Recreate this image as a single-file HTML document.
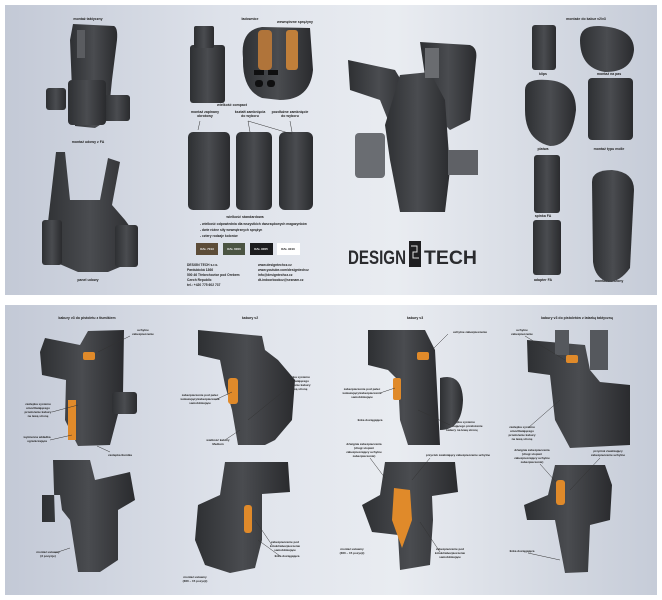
<!DOCTYPE html>
<html><head><meta charset="utf-8"><style>
html,body{margin:0;padding:0;background:#fff;}
svg{display:block;}
text{font-family:"Liberation Sans",sans-serif;font-weight:bold;fill:#222;}
</style></head><body>
<svg width="662" height="600" viewBox="0 0 662 600" xmlns="http://www.w3.org/2000/svg">
<defs>
<linearGradient id="bg" x1="0" y1="0" x2="1" y2="0">
<stop offset="0" stop-color="#c3c9d6"/><stop offset="0.35" stop-color="#dfe3eb"/><stop offset="0.6" stop-color="#e9ecf1"/><stop offset="1" stop-color="#c6ccd8"/>
</linearGradient>
<linearGradient id="hol" x1="0" y1="0" x2="1" y2="0">
<stop offset="0" stop-color="#2e3033"/><stop offset="0.5" stop-color="#4a4c50"/><stop offset="1" stop-color="#2a2b2e"/>
</linearGradient>
</defs>
<rect width="662" height="600" fill="#fff"/>
<rect x="5" y="5" width="652" height="290" fill="url(#bg)"/>
<rect x="5" y="305" width="652" height="290" fill="url(#bg)"/>

<!-- TOP PANEL -->
<g font-size="3.5" text-anchor="middle">
<text x="88" y="20">montaż taktyczny</text>
<text x="88" y="143">montaż udowy z FA</text>
<text x="88" y="281">panel udowy</text>
<text x="250" y="20">ładownice</text>
<text x="295" y="23">wewnętrzne sprężyny</text>
<text x="232" y="106">wielkość compact</text>
<text x="205" y="113">montaż zapinany</text><text x="205" y="117">obrotowy</text>
<text x="250" y="113">kształt zamknięcia</text><text x="250" y="117">do wyboru</text>
<text x="290" y="113">pozdłużne zamknięcie</text><text x="290" y="117">do wyboru</text>
<text x="245" y="218">wielkość standardowa</text>
<text x="586" y="20">montaże do kabur v2/v3</text>
<text x="543" y="75">klips</text><text x="609" y="75">montaż na pas</text>
<text x="543" y="150">platwa</text><text x="609" y="150">montaż typu molle</text>
<text x="543" y="217">spinka FA</text><text x="543" y="281">adapter FA</text><text x="609" y="282">montaż obniżony</text>
</g>
<g font-size="3.3">
<text x="200" y="225">- wielkość odpowiednia dla wszystkich dwurzędowych magazynków</text>
<text x="200" y="231">- dwie różne siły wewnętrznych sprężyn</text>
<text x="200" y="237">- cztery rodzaje kolorów</text>
<text x="187" y="266">DESIGN TECH s.r.o.</text>
<text x="187" y="271">Pardubická 1366</text>
<text x="187" y="276">500 46 Třebechovice pod Orebem</text>
<text x="187" y="281">Czech Republic</text>
<text x="187" y="286">tel.: +420 775 602 737</text>
<text x="258" y="266">www.designtechcz.cz</text>
<text x="258" y="271">www.youtube.com/designtechcz</text>
<text x="258" y="276">info@designtechcz.cz</text>
<text x="258" y="281">dt-indoorbookcz@seznam.cz</text>
</g>
<rect x="196" y="243" width="22" height="12" fill="#5c4c38"/>
<rect x="223" y="243" width="22" height="12" fill="#4b5442"/>
<rect x="250" y="243" width="23" height="12" fill="#1c1c1e"/>
<rect x="277" y="243" width="23" height="12" fill="#fff"/>
<g font-size="3" text-anchor="middle"><text x="207" y="250" style="fill:#eee">RAL 7013</text><text x="234" y="250" style="fill:#eee">RAL 6000</text><text x="261" y="250" style="fill:#eee">RAL 9005</text><text x="288" y="250">RAL 9010</text></g>

<g fill="url(#hol)">
<path d="M73 24 L114 26 Q118 28 117 40 L112 80 L108 120 L95 128 L75 126 L72 90 L70 40 Z"/>
<rect x="46" y="88" width="20" height="22" rx="3"/>
<rect x="104" y="95" width="26" height="26" rx="3"/>
<rect x="68" y="80" width="38" height="45" rx="4"/>
<path d="M56 152 L65 152 L70 200 L100 200 L108 158 L120 162 L112 205 L125 220 L138 238 L132 262 L108 272 L78 272 L55 262 L42 240 L48 222 Z"/>
<rect x="42" y="220" width="20" height="45" rx="3"/>
<rect x="115" y="225" width="23" height="42" rx="3"/>
</g>
<rect x="77" y="30" width="8" height="28" fill="#5a5c60"/>

<g fill="url(#hol)">
<rect x="190" y="45" width="35" height="58" rx="3"/>
<rect x="194" y="26" width="20" height="22" rx="2"/>
<path d="M243 58 Q240 30 262 27 L310 28 L313 70 Q310 100 280 100 L262 98 Q242 90 243 58 Z"/>
<rect x="188" y="132" width="42" height="78" rx="5"/>
<rect x="236" y="132" width="36" height="78" rx="5"/>
<rect x="279" y="132" width="34" height="78" rx="6"/>
</g>
<rect x="258" y="30" width="14" height="40" rx="4" fill="#b0743a"/>
<rect x="286" y="30" width="12" height="40" rx="3" fill="#c07f3a"/>
<g fill="#0f0f10"><rect x="254" y="70" width="10" height="5"/><rect x="268" y="70" width="10" height="5"/><rect x="255" y="80" width="8" height="7" rx="3"/><rect x="267" y="80" width="8" height="7" rx="3"/></g>

<g fill="url(#hol)">
<path d="M420 42 L470 45 Q478 48 476 60 L470 120 L450 130 L430 110 Z"/>
<path d="M348 60 L395 70 L410 95 L408 120 L392 130 L380 100 L350 90 Z"/>
<path d="M400 75 L430 72 L445 100 L450 170 L445 212 L400 212 L390 160 L385 125 Z"/>
<rect x="355" y="133" width="30" height="45" rx="4" fill="#6a6d72"/>
<rect x="448" y="150" width="30" height="25" fill="#5f6166"/>
</g>
<rect x="425" y="48" width="14" height="30" fill="#6a6c70"/>
<!-- logo -->
<text x="348" y="264" font-size="19" textLength="58" lengthAdjust="spacingAndGlyphs" style="fill:#2a2b2e;font-weight:bold">DESIGN</text>
<rect x="409" y="241" width="12" height="26" fill="#1f1f21"/>
<path d="M411 246 h6 v6 h-4 v6 h6" stroke="#ddd" stroke-width="1" fill="none"/>
<text x="424" y="264" font-size="19" textLength="53" lengthAdjust="spacingAndGlyphs" style="fill:#2a2b2e;font-weight:bold">TECH</text>

<g fill="url(#hol)">
<rect x="532" y="25" width="24" height="45" rx="3"/>
<path d="M580 40 Q580 25 600 26 Q634 28 634 50 Q632 72 605 72 Q580 68 580 40 Z"/>
<path d="M525 90 Q525 78 548 80 Q576 82 576 110 Q572 146 550 146 Q525 140 525 110 Z"/>
<rect x="588" y="78" width="45" height="62" rx="4"/>
<rect x="534" y="155" width="26" height="58" rx="3"/>
<path d="M592 182 Q592 170 612 170 Q634 172 634 190 L630 268 Q620 282 608 282 Q595 278 593 262 Z"/>
<rect x="533" y="220" width="28" height="55" rx="3"/>
</g>

<!-- BOTTOM PANEL -->
<g font-size="3.5" text-anchor="middle">
<text x="87" y="319">kabury v3 do pistoletu z tłumikiem</text>
<text x="250" y="319">kabury v2</text>
<text x="415" y="319">kabury v3</text>
<text x="577" y="319">kabury v3 do pistoletów z latarką taktyczną</text>
</g>
<g font-size="3" text-anchor="middle">
<text x="143" y="331">uchytne</text><text x="143" y="335">zabezpieczenie</text>
<text x="38" y="405">zaślepka systemu</text><text x="38" y="409">umożliwiającego</text><text x="38" y="413">przełożenie kabury</text><text x="38" y="417">na lewą stronę</text>
<text x="37" y="438">wymienna wkładka</text><text x="37" y="442">ograniczająca</text>
<text x="120" y="456">zaślepka tłumika</text>
<text x="48" y="553">montaż ustawny</text><text x="48" y="557">(3 pozycje)</text>
<text x="297" y="378">zaślepka systemu</text><text x="297" y="382">umożliwiającego</text><text x="297" y="386">przełożenie kabury</text><text x="297" y="390">na lewą stronę</text>
<text x="200" y="396">zabezpieczenie pod palec</text><text x="200" y="400">wskazujący/zabezpieczenie</text><text x="200" y="404">samoblokujące</text>
<text x="218" y="441">wielkość kabury</text><text x="218" y="445">Medium</text>
<text x="285" y="543">zabezpieczenie pod</text><text x="285" y="547">kciuk/zabezpieczenie</text><text x="285" y="551">samoblokujące</text>
<text x="287" y="557">linka dociągająca</text>
<text x="195" y="578">montaż ustawny</text><text x="195" y="582">(360 – 15 pozycji)</text>
<text x="470" y="333">uchytne zabezpieczenie</text>
<text x="362" y="390">zabezpieczenie pod palec</text><text x="362" y="394">wskazujący/zabezpieczenie</text><text x="362" y="398">samoblokujące</text>
<text x="370" y="421">linka dociągająca</text>
<text x="462" y="423">zaślepka systemu</text><text x="462" y="427">umożliwiającego przełożenie</text><text x="462" y="431">kabury na lewą stronę</text>
<text x="364" y="445">dźwignia zabezpieczenia</text><text x="364" y="449">(drugi stopień</text><text x="364" y="453">zabezpieczający uchytne</text><text x="364" y="457">zabezpieczenie)</text>
<text x="458" y="456">przycisk zwalniający zabezpieczenie uchytne</text>
<text x="352" y="550">montaż ustawny</text><text x="352" y="554">(360 – 15 pozycji)</text>
<text x="450" y="550">zabezpieczenie pod</text><text x="450" y="554">kciuk/zabezpieczenie</text><text x="450" y="558">samoblokujące</text>
<text x="522" y="331">uchytne</text><text x="522" y="335">zabezpieczenie</text>
<text x="522" y="428">zaślepka systemu</text><text x="522" y="432">umożliwiającego</text><text x="522" y="436">przełożenie kabury</text><text x="522" y="440">na lewą stronę</text>
<text x="532" y="451">dźwignia zabezpieczenia</text><text x="532" y="455">(drugi stopień</text><text x="532" y="459">zabezpieczający uchytne</text><text x="532" y="463">zabezpieczenie)</text>
<text x="608" y="452">przycisk zwalniający</text><text x="608" y="456">zabezpieczenie uchytne</text>
<text x="522" y="552">linka dociągająca</text>
</g>

<g fill="url(#hol)">
<path d="M88 331 L124 330 L123 395 L110 445 L78 446 L65 420 L66 380 L42 375 L40 352 L45 338 L80 345 Z"/>
<rect x="112" y="392" width="25" height="22" rx="3"/>
<path d="M53 460 L90 460 L95 480 L130 472 L135 500 L118 510 L118 560 L100 572 L78 572 L70 520 L62 510 L60 495 L42 495 L42 522 L55 522 Z"/>
<path d="M198 330 L262 336 L265 350 L278 360 L295 380 L292 420 L275 440 L265 445 L238 445 L232 410 L225 385 L220 360 L198 355 Z"/>
<path d="M225 462 L288 462 L290 492 L262 494 L262 540 L255 568 L230 573 L205 565 L195 540 L198 505 L220 495 Z"/>
<path d="M368 330 L425 330 L435 350 L440 445 L408 445 L400 420 L398 380 L388 370 L368 365 Z"/>
<path d="M440 378 Q462 372 463 400 Q462 430 440 430 Z"/>
<path d="M385 462 L455 462 L458 492 L432 496 L433 520 L430 565 L400 570 L398 535 L372 532 L362 505 L380 495 Z"/>
<path d="M527 340 L585 345 L590 370 L600 382 L630 385 L630 445 L570 448 L555 420 L550 375 L528 372 Z"/>
<rect x="590" y="330" width="18" height="40" fill="#55585d"/>
<rect x="555" y="330" width="14" height="25" fill="#55585d"/>
<path d="M555 465 L605 465 L612 485 L610 520 L590 525 L588 572 L565 573 L555 520 L527 520 L524 505 L548 495 Z"/>
</g>

<g fill="#e08a2a">
<rect x="83" y="352" width="12" height="8" rx="2"/>
<rect x="68" y="400" width="8" height="40"/>
<rect x="228" y="378" width="10" height="26" rx="3"/>
<rect x="244" y="505" width="8" height="28" rx="3"/>
<rect x="417" y="352" width="12" height="8" rx="2"/>
<rect x="393" y="378" width="8" height="22" rx="2"/>
<path d="M394 488 L410 490 L412 520 L402 548 L392 520 Z"/>
<rect x="566" y="355" width="12" height="8" rx="2"/>
<rect x="556" y="480" width="9" height="25" rx="3"/>
</g>

<g stroke="#333" stroke-width="0.5" fill="none">
<line x1="130" y1="336" x2="98" y2="352"/>
<line x1="52" y1="412" x2="78" y2="405"/>
<line x1="50" y1="440" x2="72" y2="435"/>
<line x1="110" y1="452" x2="97" y2="446"/>
<line x1="55" y1="553" x2="70" y2="548"/>
<line x1="285" y1="390" x2="248" y2="420"/>
<line x1="215" y1="400" x2="232" y2="392"/>
<line x1="225" y1="440" x2="240" y2="430"/>
<line x1="272" y1="545" x2="255" y2="520"/>
<line x1="280" y1="556" x2="258" y2="540"/>
<line x1="448" y1="334" x2="430" y2="352"/>
<line x1="380" y1="393" x2="395" y2="388"/>
<line x1="450" y1="425" x2="418" y2="410"/>
<line x1="370" y1="458" x2="385" y2="478"/>
<line x1="430" y1="458" x2="412" y2="480"/>
<line x1="440" y1="552" x2="420" y2="522"/>
<line x1="525" y1="336" x2="565" y2="360"/>
<line x1="528" y1="428" x2="560" y2="400"/>
<line x1="540" y1="464" x2="556" y2="482"/>
<line x1="600" y1="458" x2="570" y2="490"/>
<line x1="528" y1="553" x2="560" y2="560"/>
<line x1="200" y1="121" x2="198" y2="130"/>
<line x1="248" y1="121" x2="250" y2="132"/>
<line x1="248" y1="121" x2="292" y2="134"/>
<line x1="290" y1="121" x2="292" y2="132"/>
</g>
</svg>
</body></html>
